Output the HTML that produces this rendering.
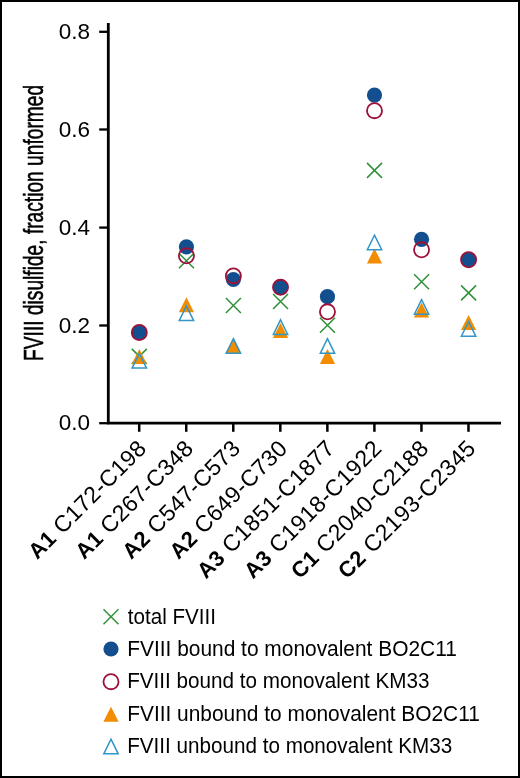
<!DOCTYPE html>
<html><head><meta charset="utf-8"><style>
html,body{margin:0;padding:0;background:#fff;}
svg{display:block;will-change:transform;}
text{font-family:"Liberation Sans",sans-serif;fill:#000;}
.tl{font-size:22.5px;}
.xl{font-size:23px;}
.bd{font-weight:bold;font-size:22px;}
.lg{font-size:21.5px;}
.yt{font-size:27px;stroke:#000;stroke-width:0.55px;}
</style></head><body>
<svg width="520" height="778" viewBox="0 0 520 778">
<rect x="0" y="0" width="520" height="778" fill="#fff"/>
<rect x="1" y="1" width="518" height="776" fill="none" stroke="#000" stroke-width="2"/>
<text transform="translate(43.2,222.9) rotate(-90)" text-anchor="middle" class="yt" textLength="276" lengthAdjust="spacingAndGlyphs">FVIII disulfide, fraction unformed</text>
<path d="M108.3 22.9V423.2H501" fill="none" stroke="#000" stroke-width="2.8" stroke-linejoin="miter" stroke-linecap="butt"/>
<path d="M99.2 31.8H108.3" stroke="#000" stroke-width="2.3"/>
<text x="90.1" y="39.0" text-anchor="end" class="tl">0.8</text>
<path d="M99.2 129.5H108.3" stroke="#000" stroke-width="2.3"/>
<text x="90.1" y="136.7" text-anchor="end" class="tl">0.6</text>
<path d="M99.2 227.6H108.3" stroke="#000" stroke-width="2.3"/>
<text x="90.1" y="234.8" text-anchor="end" class="tl">0.4</text>
<path d="M99.2 325.5H108.3" stroke="#000" stroke-width="2.3"/>
<text x="90.1" y="332.7" text-anchor="end" class="tl">0.2</text>
<path d="M99.2 423.2H108.3" stroke="#000" stroke-width="2.3"/>
<text x="90.1" y="430.4" text-anchor="end" class="tl">0.0</text>
<path d="M139.20 423.2V431.8" stroke="#000" stroke-width="2.5"/>
<path d="M186.24 423.2V431.8" stroke="#000" stroke-width="2.5"/>
<path d="M233.28 423.2V431.8" stroke="#000" stroke-width="2.5"/>
<path d="M280.32 423.2V431.8" stroke="#000" stroke-width="2.5"/>
<path d="M327.36 423.2V431.8" stroke="#000" stroke-width="2.5"/>
<path d="M374.40 423.2V431.8" stroke="#000" stroke-width="2.5"/>
<path d="M421.44 423.2V431.8" stroke="#000" stroke-width="2.5"/>
<path d="M468.48 423.2V431.8" stroke="#000" stroke-width="2.5"/>
<text transform="translate(147.55,449.95) rotate(-45)" text-anchor="end" class="xl" textLength="155.94" lengthAdjust="spacing"><tspan class="bd">A1</tspan> C172-C198</text>
<text transform="translate(194.59,449.95) rotate(-45)" text-anchor="end" class="xl" textLength="155.94" lengthAdjust="spacing"><tspan class="bd">A1</tspan> C267-C348</text>
<text transform="translate(241.63,449.95) rotate(-45)" text-anchor="end" class="xl" textLength="155.94" lengthAdjust="spacing"><tspan class="bd">A2</tspan> C547-C573</text>
<text transform="translate(288.67,449.95) rotate(-45)" text-anchor="end" class="xl" textLength="155.94" lengthAdjust="spacing"><tspan class="bd">A2</tspan> C649-C730</text>
<text transform="translate(335.71,449.95) rotate(-45)" text-anchor="end" class="xl" textLength="183.52" lengthAdjust="spacing"><tspan class="bd">A3</tspan> C1851-C1877</text>
<text transform="translate(382.75,449.95) rotate(-45)" text-anchor="end" class="xl" textLength="183.52" lengthAdjust="spacing"><tspan class="bd">A3</tspan> C1918-C1922</text>
<text transform="translate(429.79,449.95) rotate(-45)" text-anchor="end" class="xl" textLength="183.52" lengthAdjust="spacing"><tspan class="bd">C1</tspan> C2040-C2188</text>
<text transform="translate(476.83,449.95) rotate(-45)" text-anchor="end" class="xl" textLength="183.52" lengthAdjust="spacing"><tspan class="bd">C2</tspan> C2193-C2345</text>
<path d="M131.80 348.90L146.80 363.90M146.80 348.90L131.80 363.90" stroke="#2f913a" stroke-width="1.5" fill="none"/>
<path d="M178.94 253.30L193.94 268.30M193.94 253.30L178.94 268.30" stroke="#2f913a" stroke-width="1.5" fill="none"/>
<path d="M225.88 298.00L240.88 313.00M240.88 298.00L225.88 313.00" stroke="#2f913a" stroke-width="1.5" fill="none"/>
<path d="M273.02 294.00L288.02 309.00M288.02 294.00L273.02 309.00" stroke="#2f913a" stroke-width="1.5" fill="none"/>
<path d="M319.96 317.80L334.96 332.80M334.96 317.80L319.96 332.80" stroke="#2f913a" stroke-width="1.5" fill="none"/>
<path d="M367.00 162.90L382.00 177.90M382.00 162.90L367.00 177.90" stroke="#2f913a" stroke-width="1.5" fill="none"/>
<path d="M414.04 274.20L429.04 289.20M429.04 274.20L414.04 289.20" stroke="#2f913a" stroke-width="1.5" fill="none"/>
<path d="M461.08 285.40L476.08 300.40M476.08 285.40L461.08 300.40" stroke="#2f913a" stroke-width="1.5" fill="none"/>
<circle cx="139.30" cy="332.40" r="7.6" fill="#134f8e"/>
<circle cx="186.44" cy="246.85" r="7.6" fill="#134f8e"/>
<circle cx="233.38" cy="279.50" r="7.6" fill="#134f8e"/>
<circle cx="280.52" cy="287.30" r="7.6" fill="#134f8e"/>
<circle cx="327.46" cy="296.70" r="7.6" fill="#134f8e"/>
<circle cx="374.50" cy="95.10" r="7.6" fill="#134f8e"/>
<circle cx="421.54" cy="239.30" r="7.6" fill="#134f8e"/>
<circle cx="468.58" cy="259.50" r="7.6" fill="#134f8e"/>
<circle cx="139.30" cy="332.45" r="7.55" fill="none" stroke="#9e1239" stroke-width="1.8"/>
<circle cx="186.44" cy="255.80" r="7.55" fill="none" stroke="#9e1239" stroke-width="1.8"/>
<circle cx="233.38" cy="275.90" r="7.55" fill="none" stroke="#9e1239" stroke-width="1.8"/>
<circle cx="280.52" cy="287.30" r="7.55" fill="none" stroke="#9e1239" stroke-width="1.8"/>
<circle cx="327.46" cy="311.80" r="7.55" fill="none" stroke="#9e1239" stroke-width="1.8"/>
<circle cx="374.50" cy="110.70" r="7.55" fill="none" stroke="#9e1239" stroke-width="1.8"/>
<circle cx="421.54" cy="249.80" r="7.55" fill="none" stroke="#9e1239" stroke-width="1.8"/>
<circle cx="468.58" cy="259.70" r="7.55" fill="none" stroke="#9e1239" stroke-width="1.8"/>
<path d="M139.30 349.10L146.90 364.10L131.70 364.10Z" fill="#f28c00"/>
<path d="M186.44 297.30L194.04 312.30L178.84 312.30Z" fill="#f28c00"/>
<path d="M233.38 338.00L240.98 353.00L225.78 353.00Z" fill="#f28c00"/>
<path d="M280.52 323.00L288.12 338.00L272.92 338.00Z" fill="#f28c00"/>
<path d="M327.46 349.00L335.06 364.00L319.86 364.00Z" fill="#f28c00"/>
<path d="M374.50 248.50L382.10 263.50L366.90 263.50Z" fill="#f28c00"/>
<path d="M421.54 302.50L429.14 317.50L413.94 317.50Z" fill="#f28c00"/>
<path d="M468.58 314.90L476.18 329.90L460.98 329.90Z" fill="#f28c00"/>
<path d="M139.30 353.50L146.50 368.10L132.10 368.10Z" fill="none" stroke="#3296c8" stroke-width="1.5" stroke-linejoin="miter"/>
<path d="M186.44 306.00L193.64 320.60L179.24 320.60Z" fill="none" stroke="#3296c8" stroke-width="1.5" stroke-linejoin="miter"/>
<path d="M233.38 338.70L240.58 353.30L226.18 353.30Z" fill="none" stroke="#3296c8" stroke-width="1.5" stroke-linejoin="miter"/>
<path d="M280.52 319.80L287.72 334.40L273.32 334.40Z" fill="none" stroke="#3296c8" stroke-width="1.5" stroke-linejoin="miter"/>
<path d="M327.46 338.70L334.66 353.30L320.26 353.30Z" fill="none" stroke="#3296c8" stroke-width="1.5" stroke-linejoin="miter"/>
<path d="M374.50 235.10L381.70 249.70L367.30 249.70Z" fill="none" stroke="#3296c8" stroke-width="1.5" stroke-linejoin="miter"/>
<path d="M421.54 299.60L428.74 314.20L414.34 314.20Z" fill="none" stroke="#3296c8" stroke-width="1.5" stroke-linejoin="miter"/>
<path d="M468.58 321.60L475.78 336.20L461.38 336.20Z" fill="none" stroke="#3296c8" stroke-width="1.5" stroke-linejoin="miter"/>
<path d="M103.50 609.30L118.50 624.30M118.50 609.30L103.50 624.30" stroke="#2f913a" stroke-width="1.5" fill="none"/>
<text x="127.8" y="623.8" class="lg" textLength="88.2" lengthAdjust="spacingAndGlyphs">total FVIII</text>
<circle cx="111.00" cy="649.00" r="7.6" fill="#134f8e"/>
<text x="127.2" y="655.8" class="lg" textLength="329.7" lengthAdjust="spacingAndGlyphs">FVIII bound to monovalent BO2C11</text>
<circle cx="111.00" cy="681.70" r="7.55" fill="none" stroke="#9e1239" stroke-width="1.8"/>
<text x="127.2" y="688.2" class="lg" textLength="302.2" lengthAdjust="spacingAndGlyphs">FVIII bound to monovalent KM33</text>
<path d="M111.00 706.80L118.60 721.80L103.40 721.80Z" fill="#f28c00"/>
<text x="127.2" y="720.9" class="lg" textLength="352.7" lengthAdjust="spacingAndGlyphs">FVIII unbound to monovalent BO2C11</text>
<path d="M111.00 739.20L118.20 753.80L103.80 753.80Z" fill="none" stroke="#3296c8" stroke-width="1.5" stroke-linejoin="miter"/>
<text x="127.2" y="753.0" class="lg" textLength="325.0" lengthAdjust="spacingAndGlyphs">FVIII unbound to monovalent KM33</text>
</svg>
</body></html>
